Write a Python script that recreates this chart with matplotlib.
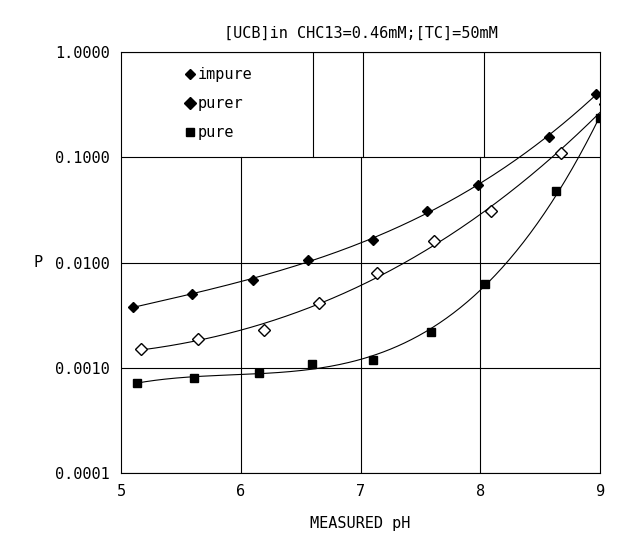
import matplotlib
matplotlib.use("Agg")
import matplotlib.pyplot as plt
import numpy as np

# measured pH and P values
ph_impure = [5.10, 5.59, 6.10, 6.56, 7.10, 7.55, 7.98, 8.57, 8.96]
p_impure = [0.0038, 0.0050, 0.0069, 0.0107, 0.0163, 0.031, 0.055, 0.155, 0.40]

ph_purer = [5.17, 5.64, 6.19, 6.65, 7.14, 7.61, 8.09, 8.67, 9.04]
p_purer = [0.0015, 0.0019, 0.0023, 0.0041, 0.0080, 0.016, 0.031, 0.11, 0.32]

ph_pure = [5.13, 5.61, 6.15, 6.59, 7.10, 7.59, 8.04, 8.63, 9.00]
p_pure = [0.00072, 0.00080, 0.00089, 0.00109, 0.0012, 0.0022, 0.0063, 0.048, 0.235]

yticks = [1.0, 0.1, 0.01, 0.001, 0.0001]
ytick_labels = ["1.0000", "0.1000", "0.0100", "0.0010", "0.0001"]

plt.rcParams['font.family'] = ['DejaVu Sans Mono']

fig = plt.figure(figsize=(6.4, 5.49), dpi=100)
ax = fig.add_axes([0.189, 0.138, 0.749, 0.767])


def smooth_curve(xs, ys, deg):
    # polynomial fit in log space, like the original trend lines
    coef = np.polyfit(xs, np.log10(ys), deg)
    xp = np.linspace(min(xs), max(xs), 200)
    return xp, 10 ** np.polyval(coef, xp)


for xs, ys, deg in [(ph_impure, p_impure, 3), (ph_purer, p_purer, 3), (ph_pure, p_pure, 3)]:
    xp, yp = smooth_curve(xs, ys, deg)
    ax.plot(xp, yp, color='black', lw=0.8)

ax.plot(ph_impure, p_impure, 'D', color='black', ms=5.5, ls='none', label='impure')
ax.plot(ph_purer, p_purer, 'D', mfc='white', mec='black', mew=1.0, ms=6, ls='none', label='purer')
ax.plot(ph_pure, p_pure, 's', color='black', ms=5.5, ls='none', label='pure')

ax.set_yscale('log')
ax.set_xlim(5, 9)
ax.set_ylim(0.0001, 1.0)
ax.set_xticks([5, 6, 7, 8, 9])
ax.set_yticks(yticks)
ax.set_yticklabels(ytick_labels)
ax.minorticks_off()
ax.tick_params(labelsize=11, length=0, pad=8)

# grid, as on the scanned original (top band has its line shifted off pH 6)
ax.grid(True, axis='y', color='black', lw=0.8)
for gx in [6, 7, 8]:
    ax.axvline(gx, ymin=0, ymax=0.75, color='black', lw=0.8)
for gx in [6.6, 7.02, 8.03]:
    ax.axvline(gx, ymin=0.75, ymax=1, color='black', lw=0.8)
for s in ax.spines.values():
    s.set_linewidth(0.8)

ax.set_xlabel('MEASURED pH', fontsize=11, labelpad=12)
ax.set_ylabel('P', fontsize=11, rotation=0, labelpad=12, va='center')
ax.set_title('[UCB]in CHC13=0.46mM;[TC]=50mM', fontsize=11, pad=10)

leg = ax.legend(loc='upper left', bbox_to_anchor=(0.1, 1.0), frameon=False, fontsize=11,
                handletextpad=0.1, handlelength=0.8, labelspacing=0.9, borderpad=0.5)
for h in leg.legend_handles:
    h.set_markerfacecolor('black')

fig.savefig('out.png', dpi=100)
